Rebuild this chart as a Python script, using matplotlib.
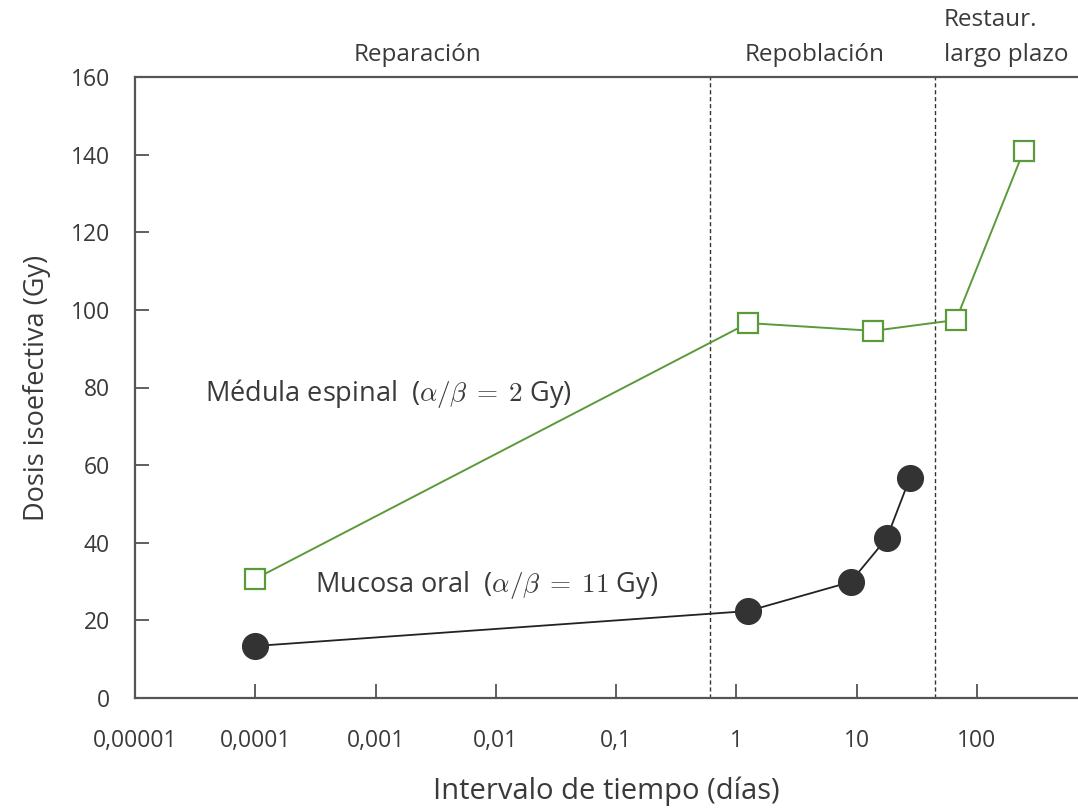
import matplotlib
matplotlib.use("Agg")
import matplotlib.pyplot as plt

plt.rcParams['font.family'] = ['Open Sans', 'DejaVu Sans']
plt.rcParams['mathtext.fontset'] = 'cm'

# Data
medula_x = [0.0001, 1.25, 13.8, 67, 245]
medula_y = [30.7, 96.6, 94.6, 97.4, 141]
mucosa_x = [0.0001, 1.25, 8.9, 17.8, 27.7]
mucosa_y = [13.4, 22.4, 29.9, 41.2, 56.7]
boundaries = [0.6, 45]
xticks = [1e-5, 1e-4, 1e-3, 1e-2, 1e-1, 1, 10, 100]
xticklabels = ['0,00001', '0,0001', '0,001', '0,01', '0,1', '1', '10', '100']
yticks = [0, 20, 40, 60, 80, 100, 120, 140, 160]

green = '#5b9a3b'
dark = '#333333'
text_c = '#3a3a3a'

fig = plt.figure(figsize=(10.78, 8.09), dpi=100)
ax = fig.add_axes([135/1078, 1-698/809, 1-135/1078, (698-77)/809])
ax.set_xscale('log')
ax.set_xlim(1e-5, 692)
ax.set_ylim(0, 160)

ax.plot(medula_x, medula_y, color=green, lw=1.4, marker='s', ms=15,
        mfc='white', mec=green, mew=1.6, zorder=3)
ax.plot(mucosa_x, mucosa_y, color='#222222', lw=1.3, marker='o', ms=18.5,
        mfc=dark, mec=dark, zorder=3)

for b in boundaries:
    ax.axvline(b, color='#333333', lw=1.0, ls=(0, (3, 2)), zorder=1)

ax.set_xticks(xticks)
ax.set_xticklabels(xticklabels)
ax.xaxis.set_minor_locator(matplotlib.ticker.NullLocator())
ax.set_yticks(yticks)
ax.tick_params(direction='in', length=10, width=1.2, colors='#444444',
               labelcolor=text_c, labelsize=16.5)
ax.tick_params(axis='x', pad=22)
ax.tick_params(axis='y', pad=18)
ax.spines['right'].set_visible(False)
for s in ['left', 'bottom', 'top']:
    ax.spines[s].set_color('#555555')
    ax.spines[s].set_linewidth(1.6)

ax.set_xlabel('Intervalo de tiempo (días)', fontsize=21, color=text_c, labelpad=17)
ax.set_ylabel('Dosis isoefectiva (Gy)', fontsize=19.5, color=text_c, labelpad=14)

fig.text(418/1078, 1-55/809, 'Reparación', ha='center', va='center',
         fontsize=17.5, color=text_c)
fig.text(815/1078, 1-55/809, 'Repoblación', ha='center', va='center',
         fontsize=17.5, color=text_c)
fig.text(944/1078, 1-20/809, 'Restaur.', ha='left', va='center',
         fontsize=17.5, color=text_c)
fig.text(944/1078, 1-55/809, 'largo plazo', ha='left', va='center',
         fontsize=17.5, color=text_c)

fig.text(205/1078, 1-393/809, r'Médula espinal  ($\alpha/\beta\;=\;2$ Gy)',
         va='center', ha='left', fontsize=19.5, color=text_c)
fig.text(315/1078, 1-585/809, r'Mucosa oral  ($\alpha/\beta\;=\;11$ Gy)',
         va='center', ha='left', fontsize=19.5, color=text_c)

fig.savefig('out.png', dpi=100)
